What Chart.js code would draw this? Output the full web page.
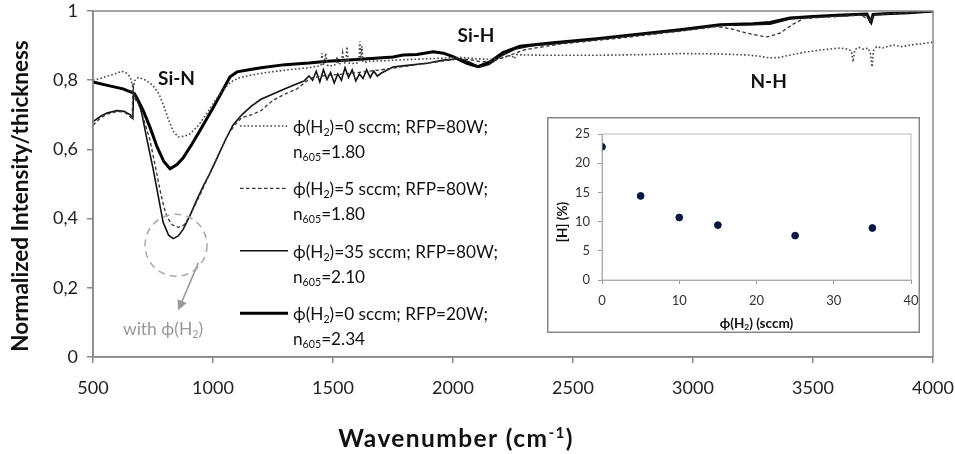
<!DOCTYPE html>
<html>
<head>
<meta charset="utf-8">
<title>FTIR spectra</title>
<script src="https://cdn.jsdelivr.net/npm/chart.js@4.4.1/dist/chart.umd.min.js"></script>
<style>
  html, body { margin: 0; padding: 0; background: #fff; }
  #wrap { position: relative; width: 955px; height: 454px; overflow: hidden; }
  canvas { position: absolute; }
</style>
</head>
<body>
<div id="wrap">
  <canvas id="main" width="955" height="454" style="left:0;top:0"></canvas>
  <canvas id="inset" width="373" height="216" style="left:547px;top:117px"></canvas>
</div>
<script>
// series labels (legend)
var seriesFlow = ['0', '5', '35', '0'];
var seriesPower = ['80', '80', '80', '20'];
var seriesIndex = ['1.80', '1.80', '2.10', '2.34'];

// phi(H2)=0 sccm, 80 W  (dotted)
var wnA = [
  500, 530, 560, 590, 620, 640, 655, 662, 667, 675,
  690, 720, 750, 775, 795, 815, 835, 855, 880, 905,
  940, 975, 1010, 1042, 1075, 1110, 1160, 1220, 1290, 1350,
  1400, 1430, 1450, 1454, 1460, 1470, 1475, 1482, 1500, 1512,
  1517, 1523, 1535, 1540, 1546, 1553, 1558, 1564, 1580, 1600,
  1608, 1612, 1617, 1620, 1625, 1632, 1660, 1700, 1760, 1820,
  1900, 2030, 2100, 2160, 2210, 2245, 2255, 2265, 2290, 2400,
  2600, 2800, 2950, 3100, 3225, 3280, 3320, 3360, 3400, 3475,
  3540, 3612, 3640, 3660, 3667, 3674, 3690, 3710, 3730, 3740,
  3746, 3752, 3765, 3790, 3833, 3870, 3920, 3960, 4000
];
var valA = [
  0.800, 0.805, 0.812, 0.818, 0.826, 0.820, 0.810, 0.790, 0.775, 0.800,
  0.808, 0.800, 0.785, 0.760, 0.725, 0.685, 0.652, 0.636, 0.638, 0.645,
  0.670, 0.705, 0.742, 0.772, 0.795, 0.807, 0.815, 0.822, 0.828, 0.833,
  0.836, 0.840, 0.842, 0.878, 0.842, 0.878, 0.845, 0.840, 0.843, 0.845,
  0.868, 0.845, 0.850, 0.878, 0.848, 0.852, 0.897, 0.850, 0.848, 0.850,
  0.852, 0.912, 0.855, 0.898, 0.854, 0.852, 0.855, 0.856, 0.858, 0.860,
  0.862, 0.866, 0.862, 0.860, 0.866, 0.872, 0.862, 0.874, 0.873, 0.872,
  0.872, 0.874, 0.877, 0.876, 0.873, 0.869, 0.864, 0.866, 0.872, 0.882,
  0.888, 0.893, 0.890, 0.885, 0.853, 0.888, 0.895, 0.890, 0.893, 0.875,
  0.838, 0.885, 0.897, 0.893, 0.902, 0.897, 0.903, 0.906, 0.910
];

// phi(H2)=5 sccm, 80 W  (dashed)
var wnB = [
  500, 530, 560, 600, 630, 655, 663, 667, 672, 690,
  710, 737, 760, 779, 795, 808, 830, 855, 880, 905,
  940, 980, 1020, 1060, 1090, 1120, 1160, 1200, 1250, 1300,
  1350, 1404, 1450, 1500, 1550, 1600, 1650, 1700, 1760, 1850,
  1950, 2030, 2080, 2120, 2170, 2220, 2300, 2450, 2700, 2950,
  3100, 3160, 3225, 3280, 3312, 3362, 3417, 3460, 3550, 3700,
  3735, 3742, 3750, 3850, 4000
];
var valB = [
  0.670, 0.690, 0.702, 0.710, 0.708, 0.695, 0.688, 0.790, 0.750, 0.730,
  0.690, 0.628, 0.550, 0.483, 0.435, 0.405, 0.382, 0.375, 0.382, 0.410,
  0.460, 0.520, 0.580, 0.640, 0.670, 0.692, 0.700, 0.712, 0.742, 0.760,
  0.775, 0.805, 0.812, 0.815, 0.818, 0.822, 0.826, 0.830, 0.836, 0.845,
  0.855, 0.862, 0.858, 0.853, 0.856, 0.868, 0.888, 0.905, 0.922, 0.942,
  0.955, 0.948, 0.936, 0.928, 0.925, 0.936, 0.962, 0.978, 0.982, 0.988,
  0.975, 0.970, 0.988, 0.993, 1.000
];

// phi(H2)=35 sccm, 80 W  (thin solid)
var wnC = [
  500, 530, 558, 600, 630, 655, 662, 666, 669, 680,
  700, 725, 750, 767, 792, 815, 834, 855, 875, 905,
  933, 960, 987, 1020, 1050, 1083, 1120, 1160, 1200, 1250,
  1300, 1350, 1380, 1400, 1415, 1430, 1445, 1460, 1475, 1490,
  1505, 1520, 1535, 1550, 1565, 1580, 1595, 1610, 1625, 1640,
  1655, 1670, 1685, 1700, 1750, 1800, 1892, 1960, 2030, 2070,
  2110, 2150, 2200, 2260, 2330, 2450, 2700, 2950, 3113, 3321,
  3404, 3500, 3600, 3725, 3738, 3745, 3755, 3850, 4000
];
var valC = [
  0.680, 0.695, 0.705, 0.712, 0.710, 0.700, 0.694, 0.690, 0.765, 0.750,
  0.715, 0.628, 0.545, 0.483, 0.390, 0.352, 0.342, 0.350, 0.368, 0.410,
  0.455, 0.495, 0.531, 0.580, 0.625, 0.670, 0.700, 0.725, 0.745, 0.760,
  0.775, 0.790, 0.798, 0.812, 0.800, 0.826, 0.795, 0.830, 0.802, 0.822,
  0.792, 0.818, 0.800, 0.836, 0.808, 0.830, 0.798, 0.818, 0.805, 0.830,
  0.808, 0.826, 0.812, 0.820, 0.838, 0.842, 0.849, 0.858, 0.862, 0.852,
  0.838, 0.845, 0.870, 0.890, 0.900, 0.907, 0.926, 0.944, 0.958, 0.962,
  0.977, 0.982, 0.986, 0.990, 0.968, 0.972, 0.990, 0.994, 0.999
];

// phi(H2)=0 sccm, 20 W  (thick solid)
var wnD = [
  500, 560, 625, 662, 672, 680, 708, 737, 767, 795,
  821, 850, 875, 912, 950, 1000, 1040, 1071, 1100, 1150,
  1200, 1300, 1400, 1475, 1600, 1750, 1792, 1850, 1917, 1960,
  2000, 2058, 2104, 2154, 2208, 2279, 2417, 2600, 2800, 2946,
  3113, 3250, 3321, 3404, 3500, 3600, 3725, 3738, 3742, 3750,
  3800, 3900, 4000
];
var valD = [
  0.795, 0.785, 0.775, 0.765, 0.762, 0.752, 0.714, 0.665, 0.607, 0.565,
  0.544, 0.556, 0.575, 0.615, 0.660, 0.720, 0.770, 0.810, 0.824, 0.830,
  0.836, 0.845, 0.850, 0.855, 0.860, 0.867, 0.873, 0.874, 0.882, 0.878,
  0.868, 0.849, 0.839, 0.853, 0.880, 0.898, 0.908, 0.920, 0.935, 0.946,
  0.960, 0.963, 0.967, 0.980, 0.984, 0.988, 0.991, 0.972, 0.968, 0.990,
  0.992, 0.995, 1.000
];

// inset: hydrogen content vs H2 flow
var insetFlow = [0, 5, 10, 15, 25, 35];
var insetH = [22.8, 14.4, 10.7, 9.4, 7.6, 8.9];

var FONT = 'Lato, "Open Sans", sans-serif';
Chart.defaults.font.family = FONT;

function pts(xs, ys) {
    return xs.map(function(x, i) { return {x: x, y: ys[i]}; });
}

// draws text pieces with sub/superscripts at baseline y
function richText(ctx, parts, x, y, size, weight, align, spacing) {
    ctx.letterSpacing = (spacing || 0) + 'px';
    var total = 0;
    var widths = parts.map(function(p) {
        var s = p[1] ? size * 0.62 : size;
        ctx.font = weight + ' ' + s + 'px ' + FONT;
        var w = ctx.measureText(p[0]).width;
        total += w;
        return w;
    });
    var cx = align === 'center' ? x - total / 2 : x;
    ctx.textAlign = 'left';
    ctx.textBaseline = 'alphabetic';
    parts.forEach(function(p, i) {
        var s = p[1] ? size * 0.62 : size;
        ctx.font = weight + ' ' + s + 'px ' + FONT;
        var dy = p[1] === 'sub' ? size * 0.18 : (p[1] === 'sup' ? -size * 0.38 : 0);
        ctx.fillText(p[0], cx, y + dy);
        cx += widths[i];
    });
    ctx.letterSpacing = '0px';
}

// keep the plot box exactly where the layout padding puts it
function noOverflow(s) {
    s.paddingLeft = 0; s.paddingRight = 0; s.paddingTop = 0; s.paddingBottom = 0;
}

var mainDecor = {
    id: 'mainDecor',
    afterDraw: function(chart) {
        var ctx = chart.ctx, a = chart.chartArea;
        var xs = chart.scales.x, ys = chart.scales.y;
        ctx.save();

        // frame round the plot
        ctx.strokeStyle = '#888';
        ctx.lineWidth = 1.5;
        ctx.strokeRect(a.left, a.top, a.right - a.left, a.bottom - a.top);

        // band labels
        ctx.fillStyle = '#111';
        ctx.textAlign = 'center';
        ctx.textBaseline = 'alphabetic';
        ctx.font = 'bold 19px ' + FONT;
        ctx.fillText('Si-N', xs.getPixelForValue(848), ys.getPixelForValue(0.786));
        ctx.fillText('Si-H', xs.getPixelForValue(2096), ys.getPixelForValue(0.911));
        ctx.fillText('N-H', xs.getPixelForValue(3315), ys.getPixelForValue(0.778));

        // dashed circle + arrow
        var cx = xs.getPixelForValue(846), cy = ys.getPixelForValue(0.323);
        var r = xs.getPixelForValue(846 + 129) - cx;
        ctx.strokeStyle = '#aaa';
        ctx.lineWidth = 1.6;
        ctx.setLineDash([7, 5]);
        ctx.beginPath();
        ctx.arc(cx, cy, r, 0, Math.PI * 2);
        ctx.stroke();
        ctx.setLineDash([]);
        var x1 = xs.getPixelForValue(939), y1 = ys.getPixelForValue(0.272);
        var x2 = xs.getPixelForValue(855), y2 = ys.getPixelForValue(0.135);
        var ang = Math.atan2(y2 - y1, x2 - x1);
        ctx.strokeStyle = '#999';
        ctx.fillStyle = '#999';
        ctx.lineWidth = 1.6;
        ctx.beginPath();
        ctx.moveTo(x1, y1);
        ctx.lineTo(x2 - 6 * Math.cos(ang), y2 - 6 * Math.sin(ang));
        ctx.stroke();
        ctx.beginPath();
        ctx.moveTo(x2, y2);
        ctx.lineTo(x2 - 10 * Math.cos(ang) + 5 * Math.sin(ang), y2 - 10 * Math.sin(ang) - 5 * Math.cos(ang));
        ctx.lineTo(x2 - 10 * Math.cos(ang) - 5 * Math.sin(ang), y2 - 10 * Math.sin(ang) + 5 * Math.cos(ang));
        ctx.closePath();
        ctx.fill();
        richText(ctx, [['with ϕ(H'], ['2', 'sub'], [')']],
                 xs.getPixelForValue(792), ys.getPixelForValue(0.065), 17.5, 'normal', 'center');

        // legend
        chart.data.datasets.forEach(function(ds, i) {
            var base = a.top + 122 + i * 62.4;
            ctx.strokeStyle = ds.borderColor;
            ctx.lineWidth = ds.borderWidth;
            ctx.setLineDash(ds.borderDash || []);
            ctx.beginPath();
            ctx.moveTo(a.left + 147, base - 7);
            ctx.lineTo(a.left + 195, base - 7);
            ctx.stroke();
            ctx.setLineDash([]);
            ctx.fillStyle = '#111';
            richText(ctx, [['ϕ(H'], ['2', 'sub'], [')=' + seriesFlow[i] + ' sccm; RFP=' + seriesPower[i] + 'W;']],
                     a.left + 200, base, 17.2, 'normal');
            richText(ctx, [['n'], ['605', 'sub'], ['=' + seriesIndex[i]]],
                     a.left + 200, base + 25, 17.2, 'normal');
        });

        // axis titles
        ctx.fillStyle = '#111';
        richText(ctx, [['Wavenumber (cm'], ['-1', 'sup'], [')']],
                 (a.left + a.right) / 2 - 57, 447, 24.5, 'bold', 'center', 1.4);
        ctx.save();
        ctx.translate(28, (a.top + a.bottom) / 2 + 12);
        ctx.rotate(-Math.PI / 2);
        ctx.font = 'bold 22.5px ' + FONT;
        ctx.textAlign = 'center';
        ctx.textBaseline = 'alphabetic';
        ctx.fillText('Normalized Intensity/thickness', 0, 0);
        ctx.restore();

        ctx.restore();
    }
};

var axisGrid = { drawOnChartArea: false, tickLength: 6, color: '#888', lineWidth: 1.5 };

new Chart(document.getElementById('main').getContext('2d'), {
    type: 'line',
    data: {
        datasets: [
            { data: pts(wnA, valA), borderColor: '#444', borderWidth: 1.6, borderDash: [1.6, 2.2] },
            { data: pts(wnB, valB), borderColor: '#333', borderWidth: 1.3, borderDash: [3.5, 2.5] },
            { data: pts(wnC, valC), borderColor: '#111', borderWidth: 1.6 },
            { data: pts(wnD, valD), borderColor: '#000', borderWidth: 3 }
        ]
    },
    options: {
        responsive: false,
        animation: false,
        devicePixelRatio: 1,
        layout: { padding: { top: 11, right: 22, left: 0, bottom: 0 } },
        elements: { point: { radius: 0 }, line: { tension: 0 } },
        plugins: { legend: { display: false }, tooltip: { enabled: false } },
        scales: {
            x: {
                type: 'linear', min: 500, max: 4000,
                afterFit: function(s) { s.height = 97; noOverflow(s); },
                ticks: { stepSize: 500, color: '#222', font: { size: 18 }, padding: 14, maxRotation: 0,
                         callback: function(v) { return String(v); } },
                grid: axisGrid,
                border: { color: '#888', width: 1.5 }
            },
            y: {
                min: 0, max: 1,
                afterFit: function(s) { s.width = 93; noOverflow(s); },
                ticks: { stepSize: 0.2, color: '#222', font: { size: 18 }, padding: 9,
                         callback: function(v) { return String(Math.round(v * 10) / 10).replace('.', ','); } },
                grid: axisGrid,
                border: { color: '#888', width: 1.5 }
            }
        }
    },
    plugins: [mainDecor]
});

var insetDecor = {
    id: 'insetDecor',
    beforeDraw: function(chart) {
        var ctx = chart.ctx;
        ctx.save();
        ctx.fillStyle = '#fff';
        ctx.fillRect(0, 0, chart.width, chart.height);
        ctx.restore();
    },
    afterDraw: function(chart) {
        var ctx = chart.ctx, a = chart.chartArea;
        ctx.save();
        ctx.strokeStyle = '#bbb';
        ctx.lineWidth = 1;
        ctx.strokeRect(a.left, a.top, a.right - a.left, a.bottom - a.top);
        ctx.strokeStyle = '#888';
        ctx.lineWidth = 1.5;
        ctx.strokeRect(0.75, 0.75, chart.width - 1.5, chart.height - 1.5);
        ctx.fillStyle = '#111';
        richText(ctx, [['ϕ(H'], ['2', 'sub'], [') (sccm)']], (a.left + a.right) / 2, 211, 13.5, 'bold', 'center');
        ctx.translate(20, 105);
        ctx.rotate(-Math.PI / 2);
        ctx.font = 'bold 13.5px ' + FONT;
        ctx.textAlign = 'center';
        ctx.textBaseline = 'alphabetic';
        ctx.fillText('[H] (%)', 0, 0);
        ctx.restore();
    }
};

var insetGrid = { drawOnChartArea: false, tickLength: 4, color: '#999' };

new Chart(document.getElementById('inset').getContext('2d'), {
    type: 'scatter',
    data: {
        datasets: [{
            data: pts(insetFlow, insetH),
            backgroundColor: '#0a1840', borderColor: '#0a1840', pointRadius: 3.4
        }]
    },
    options: {
        responsive: false,
        animation: false,
        devicePixelRatio: 1,
        layout: { padding: { top: 17, right: 9, left: 0, bottom: 0 } },
        plugins: { legend: { display: false }, tooltip: { enabled: false } },
        scales: {
            x: {
                min: 0, max: 40,
                afterFit: function(s) { s.height = 53; noOverflow(s); },
                ticks: { stepSize: 10, color: '#333', font: { size: 13 }, padding: 9 },
                grid: insetGrid,
                border: { color: '#999' }
            },
            y: {
                min: 0, max: 25,
                afterFit: function(s) { s.width = 55; noOverflow(s); },
                ticks: { stepSize: 5, color: '#333', font: { size: 13 }, padding: 8 },
                grid: insetGrid,
                border: { color: '#999' }
            }
        }
    },
    plugins: [insetDecor]
});
</script>
</body>
</html>
